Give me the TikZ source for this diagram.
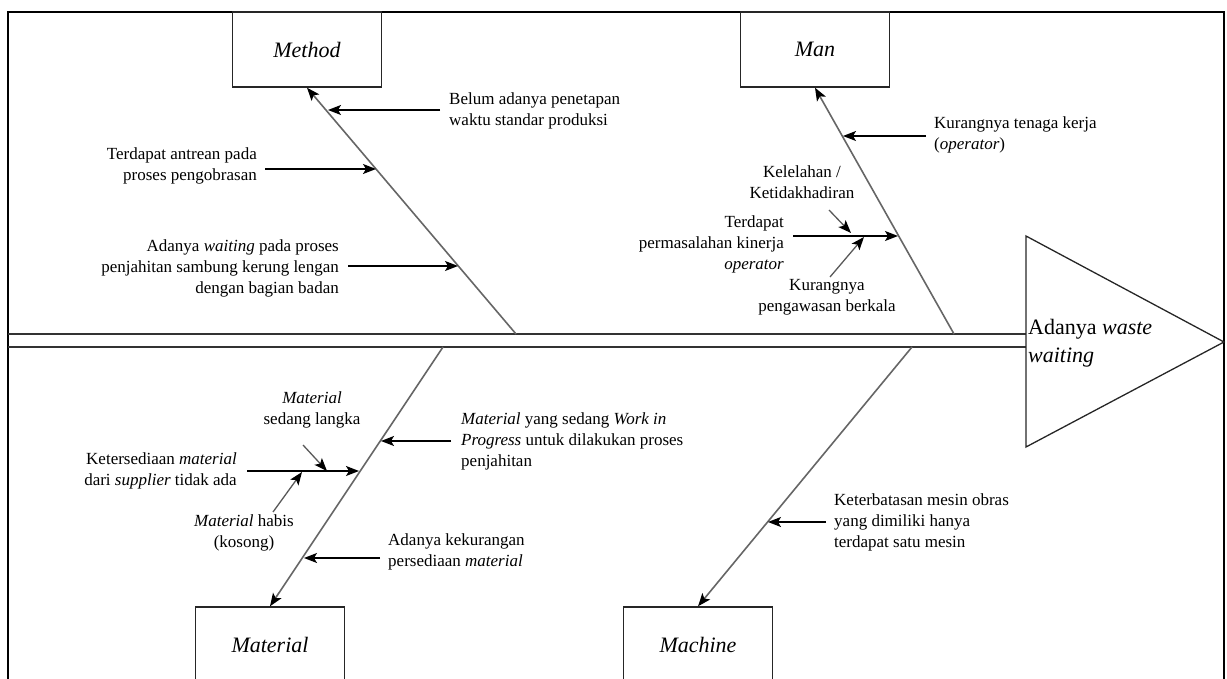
\documentclass[tikz,border=0pt]{standalone}
\usepackage{fontspec}
\setmainfont{Liberation Serif}
\usetikzlibrary{arrows.meta}
\begin{document}
\begin{tikzpicture}[x=1pt,y=-1pt,
  txt/.style={inner sep=0pt, font=\fontsize{17}{21}\selectfont},
  cause/.style={draw=black!85, line width=1.4pt, minimum width=149pt, minimum height=75pt, inner sep=0pt, font=\fontsize{22}{28}\selectfont\itshape},
  bone/.style={draw=black!60, line width=1.6pt, -{Stealth[length=13pt,width=10pt,inset=3pt,color=black]}},
  arr/.style={draw=black, line width=1.3pt, -{Stealth[length=13pt,width=10pt,inset=3pt]}},
  subarr/.style={draw=black!65, line width=1.3pt, -{Stealth[length=13pt,width=10pt,inset=3pt,color=black]}},
  spine/.style={draw=black!80, line width=1.8pt},
  frame/.style={draw=black, line width=2.8pt}
]
\useasboundingbox (0,0) rectangle (1227,679);
% frame
\draw[frame] (8,700) -- (8,12) -- (1224,12) -- (1224,700);
% spine and head
\coordinate (sTL) at (8,334);
\coordinate (sTR) at (1026,334);
\coordinate (sBL) at (8,347);
\coordinate (sBR) at (1026,347);
\draw[spine] (sTL) -- (sTR);
\draw[spine] (sBL) -- (sBR);
\coordinate (hT) at (1026,236);
\coordinate (hP) at (1224,342);
\coordinate (hB) at (1026,447);
\draw[line width=1.3pt, draw=black!85] (hT) -- (hP) -- (hB) -- cycle;
\node[anchor=west, inner sep=0pt, align=left, font=\fontsize{22}{28}\selectfont] (head) at (1028,343) {Adanya \textit{waste}\\\textit{waiting}};
% cause boxes
\node[cause] (method) at (307,49.5) {Method};
\node[cause] (man) at (815,49.5) {Man};
\node[cause] (material) at (270,644.5) {Material};
\node[cause] (machine) at (698,644.5) {Machine};
% bones
\coordinate (mB) at (516,334);
\coordinate (nB) at (954,334);
\coordinate (tB) at (443,347);
\coordinate (cB) at (912,347);
\draw[bone] (mB) -- (method.south);
\draw[bone] (nB) -- (man.south);
\draw[bone] (tB) -- (material.north);
\draw[bone] (cB) -- (machine.north);
% Method causes
\node[txt, anchor=west, align=left] (t1) at (449,111) {Belum adanya penetapan\\waktu standar produksi};
\coordinate (a1s) at (440,110); \coordinate (a1e) at (328,110);
\draw[arr] (a1s) -- (a1e);
\node[txt, anchor=east, align=right] (t2) at (257,166) {Terdapat antrean pada\\proses pengobrasan};
\coordinate (a2s) at (265,169); \coordinate (a2e) at (376,169);
\draw[arr] (a2s) -- (a2e);
\node[txt, anchor=east, align=right] (t3) at (339,268) {Adanya \textit{waiting} pada proses\\penjahitan sambung kerung lengan\\dengan bagian badan};
\coordinate (a3s) at (348,266); \coordinate (a3e) at (458,266);
\draw[arr] (a3s) -- (a3e);
% Man causes
\node[txt, anchor=west, align=left] (t4) at (934,135) {Kurangnya tenaga kerja\\(\textit{operator})};
\coordinate (a4s) at (926,136); \coordinate (a4e) at (843,136);
\draw[arr] (a4s) -- (a4e);
\node[txt, align=center] (t5) at (802,182) {Kelelahan /\\Ketidakhadiran};
\node[txt, anchor=east, align=right] (t6) at (784,244) {Terdapat\\permasalahan kinerja\\\textit{operator}};
\node[txt, align=center] (t7) at (827,297) {Kurangnya\\pengawasan berkala};
\coordinate (a6s) at (793,236); \coordinate (a6e) at (898,236);
\draw[arr] (a6s) -- (a6e);
\coordinate (a5s) at (829,210); \coordinate (a5e) at (851,233);
\draw[subarr] (a5s) -- (a5e);
\coordinate (a7s) at (830,277); \coordinate (a7e) at (864,237);
\draw[subarr] (a7s) -- (a7e);
% Material causes
\node[txt, align=center] (t8) at (312,410) {\textit{Material}\\sedang langka};
\node[txt, anchor=east, align=right] (t9) at (237,471) {Ketersediaan \textit{material}\\dari \textit{supplier} tidak ada};
\node[txt, align=center] (t10) at (244,533) {\textit{Material} habis\\(kosong)};
\coordinate (a9s) at (247,471); \coordinate (a9e) at (359,471);
\draw[arr] (a9s) -- (a9e);
\coordinate (a8s) at (303,445); \coordinate (a8e) at (327,471);
\draw[subarr] (a8s) -- (a8e);
\coordinate (a10s) at (273,512); \coordinate (a10e) at (302,472);
\draw[subarr] (a10s) -- (a10e);
\node[txt, anchor=west, align=left] (t11) at (461,441) {\textit{Material} yang sedang \textit{Work in}\\\textit{Progress} untuk dilakukan proses\\penjahitan};
\coordinate (a11s) at (451,441); \coordinate (a11e) at (381,441);
\draw[arr] (a11s) -- (a11e);
\node[txt, anchor=west, align=left] (t12) at (388,552) {Adanya kekurangan\\persediaan \textit{material}};
\coordinate (a12s) at (380,558); \coordinate (a12e) at (304,558);
\draw[arr] (a12s) -- (a12e);
% Machine causes
\node[txt, anchor=west, align=left] (t13) at (834,522) {Keterbatasan mesin obras\\yang dimiliki hanya\\terdapat satu mesin};
\coordinate (a13s) at (826,522); \coordinate (a13e) at (768,522);
\draw[arr] (a13s) -- (a13e);
\end{tikzpicture}
\end{document}
